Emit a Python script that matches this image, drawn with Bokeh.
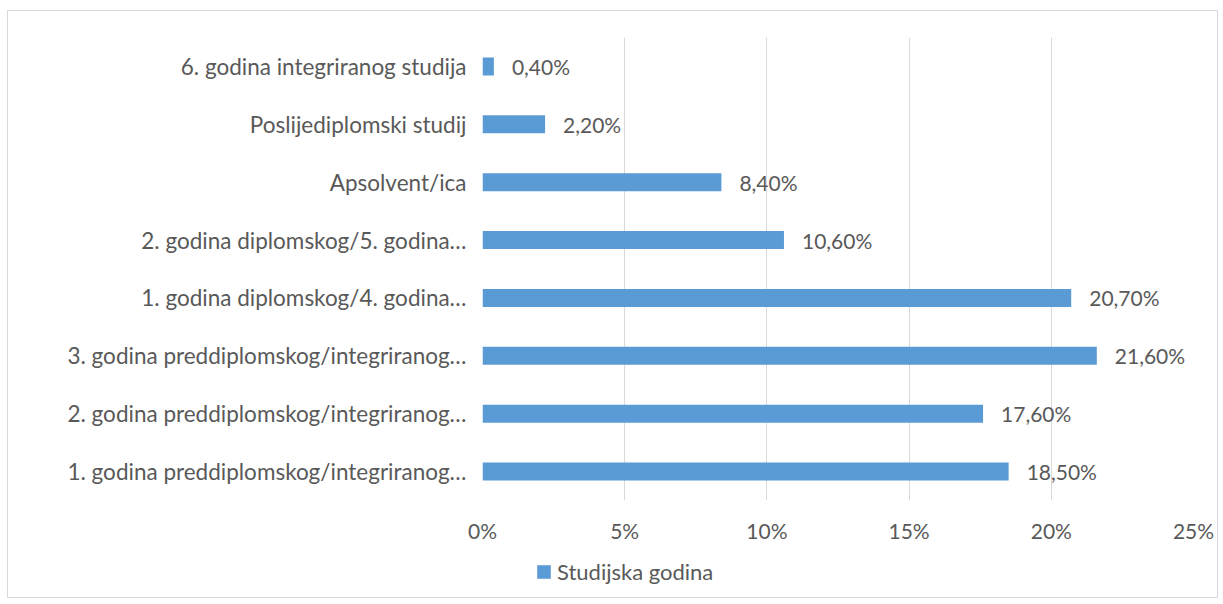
from bokeh.plotting import figure
from bokeh.layouts import column
from bokeh.models import (ColumnDataSource, FixedTicker, PrintfTickFormatter, LabelSet,
                          Legend, LegendItem, Range1d, FactorRange)
from bokeh.core.properties import value
from bokeh.embed import file_html
from bokeh.resources import INLINE

categories = [
    "1. godina preddiplomskog/integriranog…",
    "2. godina preddiplomskog/integriranog…",
    "3. godina preddiplomskog/integriranog…",
    "1. godina diplomskog/4. godina…",
    "2. godina diplomskog/5. godina…",
    "Apsolvent/ica",
    "Poslijediplomski studij",
    "6. godina integriranog studija",
]
values = [18.5, 17.6, 21.6, 20.7, 10.6, 8.4, 2.2, 0.4]
series_name = "Studijska godina"
x_ticks = [0, 5, 10, 15, 20, 25]

labels = [f"{v:.2f}".replace(".", ",") + "%" for v in values]

FONT = "Lato"
TXT = "#595959"
BAR = "#5b9bd5"
FS_CAT = "22.5px"
FS_LEG = "22px"
FS_NUM = "21px"

src = ColumnDataSource(dict(cat=categories, val=values, lab=labels))

xr = Range1d(0, 25)
yr = FactorRange(*categories, range_padding=0)

p = figure(width=1209, height=537, output_backend="svg", toolbar_location=None,
           y_range=yr, x_range=xr,
           min_border_left=474, min_border_right=24, min_border_top=26, min_border_bottom=48)
p.outline_line_color = None

bars = p.hbar(y="cat", right="val", left=0, height=0.31, source=src,
              fill_color=BAR, line_color=None)

p.add_layout(LabelSet(x="val", y="cat", text="lab", source=src, x_offset=18,
                      text_baseline="middle", text_align="left",
                      text_font=value(FONT), text_font_size=value(FS_NUM), text_color=TXT))

p.xaxis.ticker = FixedTicker(ticks=x_ticks)
p.xaxis.formatter = PrintfTickFormatter(format="%d%%")
p.xgrid.ticker = FixedTicker(ticks=x_ticks)
p.xgrid.grid_line_color = "#d9d9d9"
p.xgrid.grid_line_width = 1
p.ygrid.grid_line_color = None

for ax in (p.xaxis[0], p.yaxis[0]):
    ax.axis_line_color = None
    ax.major_tick_line_color = None
    ax.minor_tick_line_color = None
    ax.major_tick_in = 0
    ax.major_tick_out = 0
    ax.major_label_text_font = FONT
    ax.major_label_text_color = TXT
p.xaxis.major_label_text_font_size = FS_NUM
p.yaxis.major_label_text_font_size = FS_CAT
p.xaxis.major_label_standoff = 17
p.yaxis.major_label_standoff = 16

# legend strip below the chart (frame is aligned with the main chart's frame)
p2 = figure(width=1209, height=49, output_backend="svg", toolbar_location=None,
            x_range=xr, y_range=yr,
            min_border_left=0, min_border_right=0, min_border_top=0, min_border_bottom=0)
p2.axis.visible = False
p2.grid.visible = False
p2.outline_line_color = None
proxy = p2.hbar(y="cat", right="val", left=0, height=0.31, source=src,
                fill_color=BAR, line_color=None, visible=False)

legend = Legend(items=[LegendItem(label=series_name, renderers=[proxy])],
                location=(53, 12), orientation="horizontal",
                padding=0, margin=0, border_line_color=None, background_fill_alpha=0,
                glyph_width=17, glyph_height=17, label_standoff=5,
                inactive_fill_alpha=0,
                label_text_font=FONT, label_text_font_size=FS_LEG, label_text_color=TXT)
p2.add_layout(legend, "center")

layout = column(p, p2, spacing=0,
                styles={"border": "1px solid #d9d9d9", "margin-left": "7px", "margin-top": "10px"})

open("out.html", "w").write(file_html(layout, INLINE))
